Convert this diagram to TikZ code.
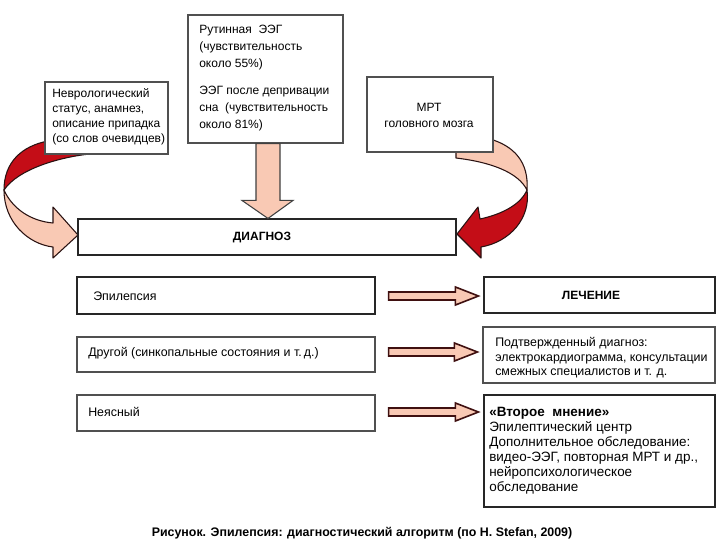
\documentclass[tikz,border=0pt]{standalone}
\usepackage{fontspec}
\setmainfont{Liberation Sans}
\usetikzlibrary{calc,fit}
\definecolor{pinkf}{HTML}{F9C9B4}
\definecolor{redf}{HTML}{C40D17}
\definecolor{edgec}{HTML}{2A1212}
\definecolor{boxgray}{HTML}{505050}
\begin{document}
\begin{tikzpicture}[x=0.75pt,y=-0.75pt,
  box/.style={draw=#1, fill=white, line width=0.85pt, inner sep=0pt},
  box/.default={black!85},
  txt/.style={inner sep=0pt, align=left, font=\fontsize{9.3}{11.25}\selectfont},
  pinkpart/.style={fill=pinkf, draw=edgec, line width=0.8pt, line join=round},
  redpart/.style={fill=redf, draw=edgec, line width=0.8pt, line join=round},
  harrowst/.style={fill=pinkf, draw=edgec!90!red, line width=1.2pt, line join=miter},
  varrowst/.style={fill=pinkf, draw=black!75, line width=0.8pt}
]
\fill[white] (0,0) rectangle (720,540);
\useasboundingbox (0,0) rectangle (720,540);

% curved arrows (drawn first, boxes cover their tails)
\draw[redpart] (4,190) .. controls (4,162) and (22,146) .. (48,141) -- (90,141) -- (90,154)
  .. controls (60,157) and (18,169) .. (4,190) -- cycle;
\draw[pinkpart] (4,190) .. controls (4,222) and (28,244) .. (53,247) -- (53,258) -- (78,235)
  -- (53,207) -- (53,223) .. controls (30,221) and (12,208) .. (4,190) -- cycle;

\draw[pinkpart] (456,145) -- (456,158) .. controls (490,162) and (518,172) .. (527,190)
  .. controls (529,162) and (514,146) .. (490,139) -- cycle;
\draw[redpart] (527,190) .. controls (531,218) and (510,242) .. (481,247) -- (481,258) -- (457,234)
  -- (478,207) -- (480,219) .. controls (503,214) and (521,204) .. (527,190) -- cycle;

% boxes
\node[box=boxgray, fit={(188,15)(343,143)}] (eeg) {};
\node[box=boxgray, fit={(45,82)(168,154)}] (nevr) {};
\node[box=boxgray, fit={(367,77)(493,152)}] (mrt) {};
\node[box, fit={(78,219)(456,255)}] (diag) {};
\node[box, fit={(77,277)(375,314)}] (epi) {};
\node[box=boxgray, fit={(77,337)(375,372)}] (other) {};
\node[box=boxgray, fit={(77,395)(375,431)}] (unclear) {};
\node[box, fit={(484,277)(715,313)}] (treat) {};
\node[box=boxgray, fit={(483,327)(715,383)}] (conf) {};
\node[box, fit={(484,395)(715,507)}] (second) {};

% texts
\node[txt, anchor=west, font=\fontsize{9}{12.75}\selectfont] (eegt) at (199,78)
  {Рутинная\ \ ЭЭГ\\(чувствительность\\около 55\%)\\[7.5pt]ЭЭГ после депривации\\сна\ \ (чувствительность\\около 81\%)};
\node[txt, anchor=west, font=\fontsize{9}{11.25}\selectfont] (nevrt) at (52,117)
  {Неврологический\\статус, анамнез,\\описание припадка\\(со слов очевидцев)};
\node[txt, align=center, font=\fontsize{9}{12}\selectfont] (mrtt) at (429,115.5)
  {МРТ\\головного мозга};
\node[txt, font=\bfseries\fontsize{9}{11}\selectfont] (diagt) at (262,237) {ДИАГНОЗ};
\node[txt, anchor=west] (epit) at (93,296) {Эпилепсия};
\node[txt, anchor=west] (othert) at (88,353) {Другой (синкопальные состояния и т.\,д.)};
\node[txt, anchor=west] (uncleart) at (88,412) {Неясный};
\node[txt, font=\bfseries\fontsize{9}{11}\selectfont] (treatt) at (591,295) {ЛЕЧЕНИЕ};
\node[txt, anchor=west, font=\fontsize{9.3}{10.9}\selectfont] (conft) at (495,358)
  {Подтвержденный диагноз:\\электрокардиограмма, консультации\\смежных специалистов и т. д.};
\node[txt, anchor=west, font=\fontsize{10.1}{11.25}\selectfont] (secondt) at (489,451)
  {\textbf{«Второе\ \ мнение»}\\Эпилептический центр\\Дополнительное обследование:\\видео-ЭЭГ, повторная МРТ и др.,\\нейропсихологическое\\обследование};
\node[font=\bfseries\fontsize{9.3}{11}\selectfont, inner sep=0pt] (cap) at (362,533)
  {Рисунок. Эпилепсия: диагностический алгоритм (по H. Stefan, 2009)};

% straight block arrows
\coordinate (d0) at ($(eeg.south)+(2.5,0)$);
\coordinate (d1) at (d0 |- diag.north);
\draw[varrowst] ($(d0)+(-12,0)$) -- ($(d1)+(-12,-18)$) -- ($(d1)+(-26,-18)$) -- (d1)
  -- ($(d1)+(25,-18)$) -- ($(d1)+(12,-18)$) -- ($(d0)+(12,0)$) -- cycle;

\foreach \a/\b/\dy in {epi/treat/0.5, other/conf/-2.5, unclear/second/-1}{
  \coordinate (s) at ($(\a.east)+(13,\dy)$);
  \coordinate (t0) at (s -| \b.west);
  \coordinate (t) at ($(t0)+(-5,0)$);
  \draw[harrowst] ($(s)+(0,-4)$) -- ($(t)+(-23,-4)$) -- ($(t)+(-23,-9)$) -- (t)
    -- ($(t)+(-23,9)$) -- ($(t)+(-23,4)$) -- ($(s)+(0,4)$) -- cycle;
}
\end{tikzpicture}
\end{document}
